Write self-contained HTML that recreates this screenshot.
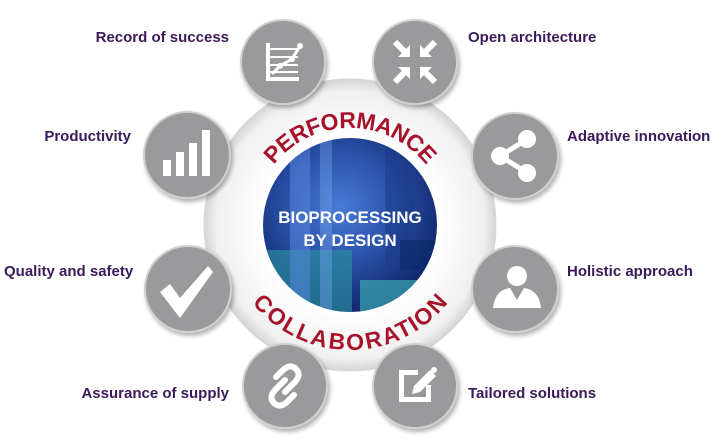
<!DOCTYPE html>
<html><head><meta charset="utf-8"><style>
html,body{margin:0;padding:0;background:#fff;}
svg{display:block;font-family:"Liberation Sans",Arial,sans-serif;}
.l{font-weight:bold;font-size:15px;fill:#3a1a5a;}
</style></head><body>
<svg width="721" height="441" viewBox="0 0 721 441">
<defs>
<radialGradient id="wg" cx="50%" cy="50%" r="50%">
<stop offset="0.6" stop-color="#ffffff"/><stop offset="0.92" stop-color="#f0f0f0"/><stop offset="1" stop-color="#d4d4d4"/>
</radialGradient>
<radialGradient id="pg" cx="45%" cy="40%" r="60%">
<stop offset="0" stop-color="#4a7ad8"/><stop offset="0.5" stop-color="#2a52a8"/><stop offset="1" stop-color="#10246a"/>
</radialGradient>
<clipPath id="pc"><circle cx="350" cy="225" r="87"/></clipPath>
<filter id="sh" x="-20%" y="-20%" width="150%" height="150%"><feDropShadow dx="2" dy="3" stdDeviation="2" flood-color="#000" flood-opacity="0.3"/></filter>
<path id="topArc" d="M 253 225 A 97 97 0 0 1 447 225"/>
<path id="botArc" d="M 242 225 A 108 108 0 0 0 458 225"/>
</defs>
<circle cx="350" cy="225" r="146" fill="url(#wg)" stroke="#d8d8d8" stroke-width="1"/>
<g clip-path="url(#pc)">
<rect x="260" y="135" width="180" height="180" fill="url(#pg)"/>
<rect x="262" y="250" width="90" height="70" fill="#2a8aa0" opacity="0.7"/>
<rect x="360" y="280" width="80" height="40" fill="#3aa8b0" opacity="0.7"/>
<rect x="290" y="140" width="20" height="180" fill="#5a8ae0" opacity="0.5"/>
<rect x="320" y="140" width="12" height="180" fill="#7ab0f0" opacity="0.35"/>
<rect x="385" y="150" width="30" height="120" fill="#1a3a8a" opacity="0.5"/>
<rect x="400" y="240" width="40" height="30" fill="#0a2a6a" opacity="0.6"/>
</g>
<text x="350" y="223" text-anchor="middle" font-size="17" font-weight="bold" fill="#fff">BIOPROCESSING</text>
<text x="350" y="246" text-anchor="middle" font-size="17" font-weight="bold" fill="#fff">BY DESIGN</text>
<text font-size="23" font-weight="bold" fill="#a8132c" letter-spacing="-0.5"><textPath href="#topArc" startOffset="50%" text-anchor="middle">PERFORMANCE</textPath></text>
<text font-size="23" font-weight="bold" fill="#a8132c" dy="17" letter-spacing="-0.3"><textPath href="#botArc" startOffset="50%" text-anchor="middle">COLLABORATION</textPath></text>
<g fill="#9a9a9c" stroke="#cfcfcf" stroke-width="2" filter="url(#sh)">
<circle cx="283" cy="62" r="42"/><circle cx="415" cy="62" r="42"/>
<circle cx="187" cy="155" r="43"/><circle cx="515" cy="156" r="43"/>
<circle cx="188" cy="289" r="43"/><circle cx="515" cy="289" r="43"/>
<circle cx="285" cy="386" r="42"/><circle cx="415" cy="386" r="42"/>
</g>
<g fill="#fff" stroke="none">
<rect x="266" y="43" width="4" height="38"/><rect x="266" y="77" width="33" height="4"/>
<rect x="270" y="48" width="28" height="2"/><rect x="270" y="56" width="28" height="2"/><rect x="270" y="64" width="28" height="2"/><rect x="270" y="71" width="28" height="2"/>
<polyline points="272,74 280,66 292,59 300,46" fill="none" stroke="#fff" stroke-width="3"/>
<circle cx="280" cy="66" r="3"/><circle cx="292" cy="59" r="3"/><circle cx="300" cy="46" r="3"/>
<g stroke="#fff" stroke-width="6" fill="none"><line x1="395" y1="42" x2="407" y2="54"/><line x1="435" y1="42" x2="423" y2="54"/><line x1="395" y1="82" x2="407" y2="70"/><line x1="435" y1="82" x2="423" y2="70"/></g>
<polygon points="410,45 410,57 398,57"/><polygon points="420,45 420,57 432,57"/><polygon points="410,79 410,67 398,67"/><polygon points="420,79 420,67 432,67"/>
<rect x="163" y="160" width="8" height="16"/><rect x="176" y="152" width="8" height="24"/><rect x="189" y="143" width="8" height="33"/><rect x="202" y="130" width="8" height="46"/>
<g stroke="#fff" stroke-width="5"><line x1="500" y1="156" x2="526" y2="140"/><line x1="500" y1="156" x2="526" y2="172"/></g>
<circle cx="500" cy="156" r="9"/><circle cx="527" cy="139" r="9"/><circle cx="527" cy="173" r="9"/>
<polygon points="160,292 170,284 180,298 208,266 213,272 180,318"/>
<circle cx="517" cy="276" r="10"/><path d="M493 308 Q495 290 510 288 L517 300 L524 288 Q539 290 541 308 Z"/>
<g stroke="#fff" stroke-width="6" fill="none" stroke-linecap="round"><path d="M285 380 L276 389 Q268 397 274 403 Q280 409 288 401 L294 395"/><path d="M285 392 L294 383 Q302 375 296 369 Q290 363 282 371 L276 377"/></g>
<path d="M399 370 H418 V375 H404 V397 H426 V385 H431 V402 H399 Z"/>
<polygon points="412,394 414,386 430,370 436,376 420,392"/><circle cx="434" cy="370" r="3"/>
</g>
<text class="l" x="229" y="42" text-anchor="end">Record of success</text>
<text class="l" x="468" y="42">Open architecture</text>
<text class="l" x="131" y="141" text-anchor="end">Productivity</text>
<text class="l" x="567" y="141">Adaptive innovation</text>
<text class="l" x="4" y="276">Quality and safety</text>
<text class="l" x="567" y="276">Holistic approach</text>
<text class="l" x="229" y="398" text-anchor="end">Assurance of supply</text>
<text class="l" x="468" y="398">Tailored solutions</text>
</svg>
</body></html>
